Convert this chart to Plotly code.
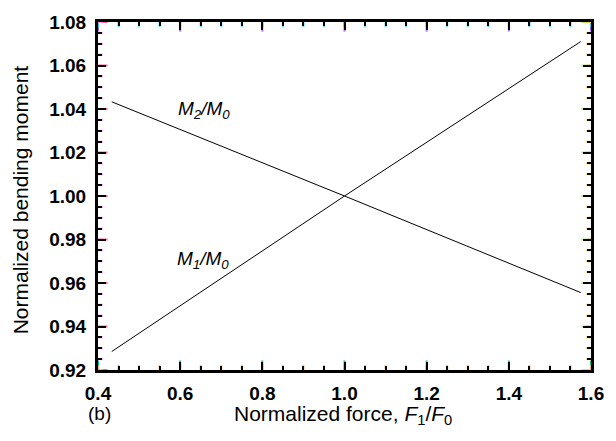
import numpy as np
import plotly.graph_objects as go

# Data
force = [0.4335, 1.0, 1.575]
m1_ratio = [0.9285, 1.0, 1.071]
m2_ratio = [1.0433, 1.0, 0.9556]

x_ticks = [0.4, 0.6, 0.8, 1.0, 1.2, 1.4, 1.6]
x_tick_labels = ["0.4", "0.6", "0.8", "1.0", "1.2", "1.4", "1.6"]
y_ticks = [0.92, 0.94, 0.96, 0.98, 1.00, 1.02, 1.04, 1.06, 1.08]
y_tick_labels = ["0.92", "0.94", "0.96", "0.98", "1.00", "1.02", "1.04", "1.06", "1.08"]

X_RANGE = [0.4, 1.6]
Y_RANGE = [0.92, 1.08]

# minor tick positions: 4 subdivisions between major ticks
x_minor = [float(round(v, 3)) for v in np.arange(0.4, 1.6001, 0.05)]
y_minor = [float(round(v, 4)) for v in np.arange(0.92, 1.08001, 0.005)]

FONT = "Liberation Sans"
W, H = 616, 441
L, R, T, B = 98, 16, 14, 71
pw, ph = W - L - R, H - T - B
XU = (X_RANGE[1] - X_RANGE[0]) / pw
YU = (Y_RANGE[1] - Y_RANGE[0]) / ph
MAJ, MIN = 8, 4

fig = go.Figure()
fig.add_trace(go.Scatter(x=force, y=m1_ratio, mode="lines",
                         line=dict(color="black", width=1), showlegend=False))
fig.add_trace(go.Scatter(x=force, y=m2_ratio, mode="lines",
                         line=dict(color="black", width=1), showlegend=False))

# inside tick marks drawn as line-symbol markers (backup for axis ticks)
for vals, ln in ((x_ticks, MAJ), (x_minor, MIN)):
    for base, sgn in ((Y_RANGE[0], 1), (Y_RANGE[1], -1)):
        fig.add_trace(go.Scatter(
            x=vals, y=[base + sgn * ln / 2 * YU] * len(vals), mode="markers",
            marker=dict(symbol="line-ns-open", size=ln, line=dict(color="black", width=2)),
            hoverinfo="skip", showlegend=False, cliponaxis=False))
for vals, ln in ((y_ticks, MAJ), (y_minor, MIN)):
    for base, sgn in ((X_RANGE[0], 1), (X_RANGE[1], -1)):
        fig.add_trace(go.Scatter(
            x=[base + sgn * ln / 2 * XU] * len(vals), y=vals, mode="markers",
            marker=dict(symbol="line-ew-open", size=ln, line=dict(color="black", width=2)),
            hoverinfo="skip", showlegend=False, cliponaxis=False))

axis_common = dict(
    showgrid=False, zeroline=False, showline=True, linecolor="black", linewidth=2.5,
    mirror="allticks", ticks="inside", ticklen=8, tickwidth=2, tickcolor="black",
    tickfont=dict(family=FONT, size=19, color="black", weight="bold"),
)

fig.update_xaxes(range=X_RANGE, tickmode="array", tickvals=x_ticks, ticktext=x_tick_labels,
                 minor=dict(tickmode="array", tickvals=x_minor, ticks="inside", ticklen=4,
                            tickwidth=2, tickcolor="black", showgrid=False),
                 ticklabelstandoff=4, **axis_common)
fig.update_yaxes(range=Y_RANGE, tickmode="array", tickvals=y_ticks,
                 ticktext=[t + "\u00a0" for t in y_tick_labels],
                 minor=dict(tickmode="array", tickvals=y_minor, ticks="inside", ticklen=4,
                            tickwidth=2, tickcolor="black", showgrid=False),
                 **axis_common)

fig.add_annotation(x=0.658, y=1.0395, xref="x", yref="y", showarrow=False,
                   xanchor="center", yanchor="middle",
                   text="<i>M<sub>2</sub>/M<sub>0</sub></i>",
                   font=dict(family=FONT, size=19, color="black"))
fig.add_annotation(x=0.656, y=0.9707, xref="x", yref="y", showarrow=False,
                   xanchor="center", yanchor="middle",
                   text="<i>M<sub>1</sub>/M<sub>0</sub></i>",
                   font=dict(family=FONT, size=19, color="black"))


def px(xp, yp):
    return (xp - L) / pw, (H - yp - B) / ph


ax_, ay_ = px(347, 416)
fig.add_annotation(x=ax_, y=ay_, xref="paper", yref="paper", showarrow=False,
                   xanchor="center", yanchor="middle",
                   text="Normalized force, <i>F</i><sub>1</sub>/<i>F</i><sub>0</sub>",
                   font=dict(family=FONT, size=21, color="black"))
bx, by = px(100, 414)
fig.add_annotation(x=bx, y=by, xref="paper", yref="paper", showarrow=False,
                   xanchor="center", yanchor="middle",
                   text="(b)", font=dict(family=FONT, size=19, color="black"))
yx, yy = px(19, 196)
fig.add_annotation(x=yx, y=yy, xref="paper", yref="paper", showarrow=False,
                   xanchor="center", yanchor="middle",
                   text="Normalized bending moment", textangle=-90,
                   font=dict(family=FONT, size=21, color="black"))

fig.update_layout(width=W, height=H, margin=dict(l=L, r=R, t=T, b=B),
                  plot_bgcolor="white", paper_bgcolor="white")

fig.write_html("out.html")
